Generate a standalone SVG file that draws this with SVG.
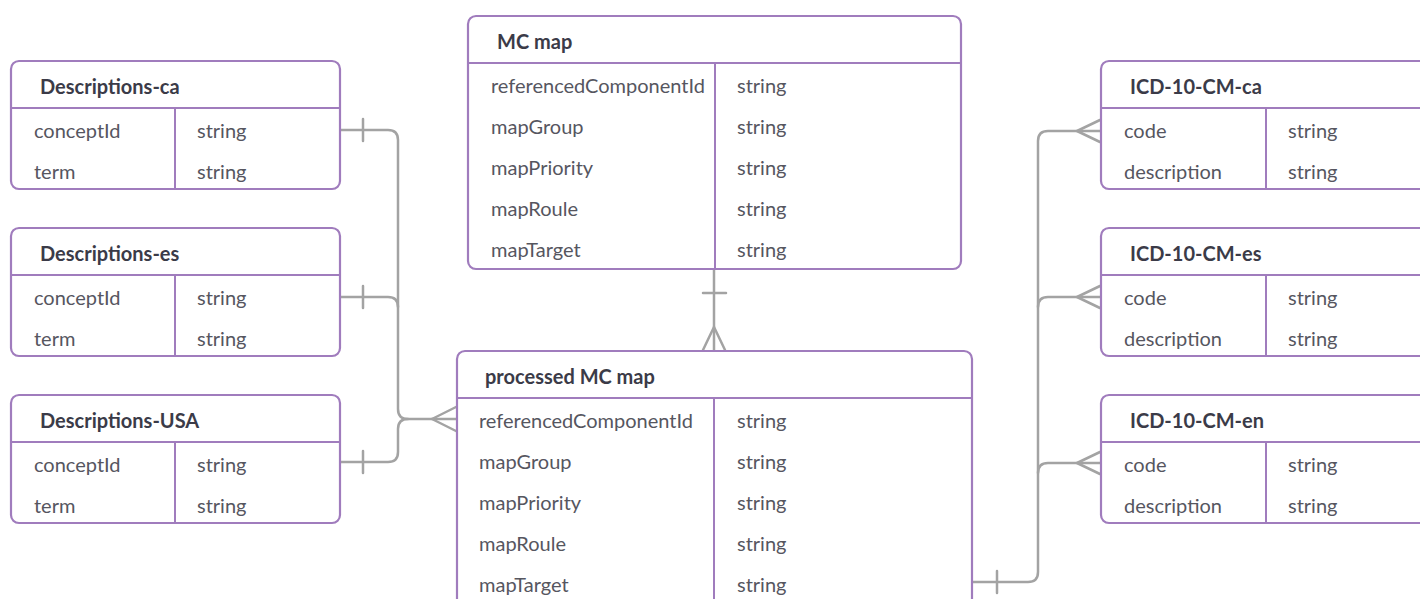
<svg xmlns="http://www.w3.org/2000/svg" width="1420" height="599" viewBox="0 0 1420 599">
  <style>
    .box { fill: #ffffff; stroke: #a07cbd; stroke-width: 2.2; }
    .sep { stroke: #a07cbd; stroke-width: 2; fill: none; }
    .hdr { font-family: Lato, "Liberation Sans", sans-serif; font-weight: bold; font-size: 20px; fill: #3b3b48; }
    .cell { font-family: Lato, "Liberation Sans", sans-serif; font-size: 20px; fill: #56565f; }
    .conn { stroke: #a3a3a3; stroke-width: 2.5; fill: none; stroke-linecap: round; stroke-linejoin: round; }
  </style>
  <rect width="1420" height="599" fill="#ffffff"/>

  <!-- relationship lines -->
  <g id="connectors">
    <!-- Descriptions tables to processed MC map -->
    <path class="conn" d="M340,130 H388 Q398,130 398,140 V409 Q398,419 408,419 H457"/>
    <path class="conn" d="M340,297 H388 Q398,297 398,307"/>
    <path class="conn" d="M340,462 H388 Q398,462 398,452 V429 Q398,419 408,419"/>
    <path class="conn" d="M363,119 V141 M363,286 V308 M363,451 V473"/>
    <path class="conn" d="M432,419 L456,407 M432,419 L456,431"/>

    <!-- MC map to processed MC map -->
    <path class="conn" d="M714,269 V351"/>
    <path class="conn" d="M703,293 H726"/>
    <path class="conn" d="M714,327 L703,350 M714,327 L725,350"/>

    <!-- processed MC map to ICD-10-CM tables -->
    <path class="conn" d="M972,582 H1028 Q1038,582 1038,572 V141 Q1038,131 1048,131 H1101"/>
    <path class="conn" d="M1038,307 Q1038,297 1048,297 H1101"/>
    <path class="conn" d="M1038,473 Q1038,463 1048,463 H1101"/>
    <path class="conn" d="M997,571 V593"/>
    <path class="conn" d="M1077,131 L1100,120 M1077,131 L1100,142"/>
    <path class="conn" d="M1077,297 L1100,286 M1077,297 L1100,308"/>
    <path class="conn" d="M1077,463 L1100,452 M1077,463 L1100,474"/>
  </g>

  <g id="descriptions-ca">
    <rect class="box" x="11" y="61" width="329" height="128" rx="8"/>
    <path class="sep" d="M11,108 H340 M175,108 V189"/>
    <text class="hdr" x="40" y="94">Descriptions-ca</text>
    <text class="cell" x="34" y="138">conceptId</text>
    <text class="cell" x="197" y="138">string</text>
    <text class="cell" x="34" y="179">term</text>
    <text class="cell" x="197" y="179">string</text>
  </g>

  <g id="descriptions-es">
    <rect class="box" x="11" y="228" width="329" height="128" rx="8"/>
    <path class="sep" d="M11,275 H340 M175,275 V356"/>
    <text class="hdr" x="40" y="261">Descriptions-es</text>
    <text class="cell" x="34" y="305">conceptId</text>
    <text class="cell" x="197" y="305">string</text>
    <text class="cell" x="34" y="346">term</text>
    <text class="cell" x="197" y="346">string</text>
  </g>

  <g id="descriptions-usa">
    <rect class="box" x="11" y="395" width="329" height="128" rx="8"/>
    <path class="sep" d="M11,442 H340 M175,442 V523"/>
    <text class="hdr" x="40" y="428">Descriptions-USA</text>
    <text class="cell" x="34" y="472">conceptId</text>
    <text class="cell" x="197" y="472">string</text>
    <text class="cell" x="34" y="513">term</text>
    <text class="cell" x="197" y="513">string</text>
  </g>

  <g id="mc-map">
    <rect class="box" x="468" y="16" width="493" height="253" rx="8"/>
    <path class="sep" d="M468,63 H961 M715,63 V269"/>
    <text class="hdr" x="497" y="49">MC map</text>
    <text class="cell" x="491" y="93">referencedComponentId</text>
    <text class="cell" x="737" y="93">string</text>
    <text class="cell" x="491" y="134">mapGroup</text>
    <text class="cell" x="737" y="134">string</text>
    <text class="cell" x="491" y="175">mapPriority</text>
    <text class="cell" x="737" y="175">string</text>
    <text class="cell" x="491" y="216">mapRoule</text>
    <text class="cell" x="737" y="216">string</text>
    <text class="cell" x="491" y="257">mapTarget</text>
    <text class="cell" x="737" y="257">string</text>
  </g>

  <g id="processed-mc-map">
    <rect class="box" x="457" y="351" width="515" height="262" rx="8"/>
    <path class="sep" d="M457,398 H972 M714,398 V613"/>
    <text class="hdr" x="485" y="384">processed MC map</text>
    <text class="cell" x="479" y="428">referencedComponentId</text>
    <text class="cell" x="737" y="428">string</text>
    <text class="cell" x="479" y="469">mapGroup</text>
    <text class="cell" x="737" y="469">string</text>
    <text class="cell" x="479" y="510">mapPriority</text>
    <text class="cell" x="737" y="510">string</text>
    <text class="cell" x="479" y="551">mapRoule</text>
    <text class="cell" x="737" y="551">string</text>
    <text class="cell" x="479" y="592">mapTarget</text>
    <text class="cell" x="737" y="592">string</text>
  </g>

  <g id="icd-10-cm-ca">
    <rect class="box" x="1101" y="61" width="340" height="128" rx="8"/>
    <path class="sep" d="M1101,108 H1441 M1266,108 V189"/>
    <text class="hdr" x="1130" y="94">ICD-10-CM-ca</text>
    <text class="cell" x="1124" y="138">code</text>
    <text class="cell" x="1288" y="138">string</text>
    <text class="cell" x="1124" y="179">description</text>
    <text class="cell" x="1288" y="179">string</text>
  </g>

  <g id="icd-10-cm-es">
    <rect class="box" x="1101" y="228" width="340" height="128" rx="8"/>
    <path class="sep" d="M1101,275 H1441 M1266,275 V356"/>
    <text class="hdr" x="1130" y="261">ICD-10-CM-es</text>
    <text class="cell" x="1124" y="305">code</text>
    <text class="cell" x="1288" y="305">string</text>
    <text class="cell" x="1124" y="346">description</text>
    <text class="cell" x="1288" y="346">string</text>
  </g>

  <g id="icd-10-cm-en">
    <rect class="box" x="1101" y="395" width="340" height="128" rx="8"/>
    <path class="sep" d="M1101,442 H1441 M1266,442 V523"/>
    <text class="hdr" x="1130" y="428">ICD-10-CM-en</text>
    <text class="cell" x="1124" y="472">code</text>
    <text class="cell" x="1288" y="472">string</text>
    <text class="cell" x="1124" y="513">description</text>
    <text class="cell" x="1288" y="513">string</text>
  </g>
</svg>
